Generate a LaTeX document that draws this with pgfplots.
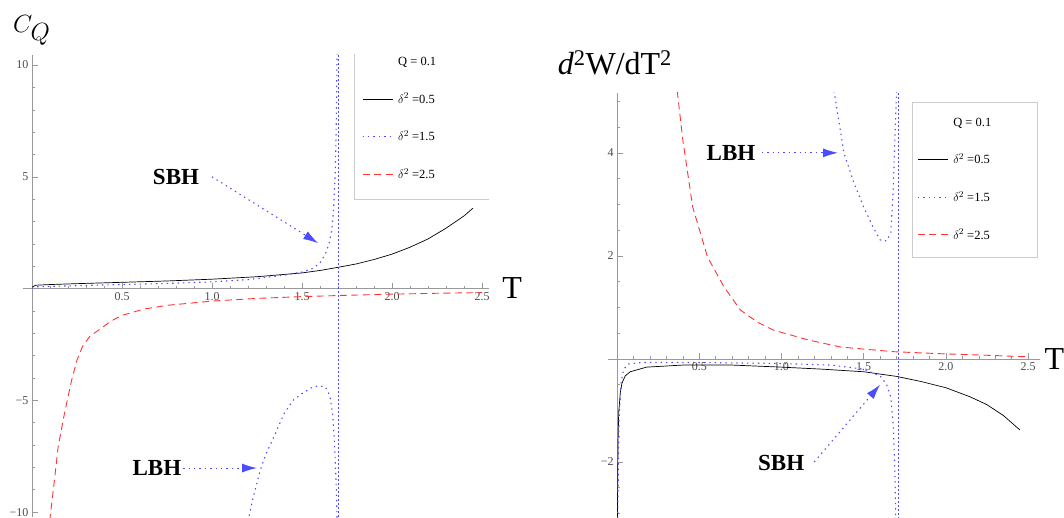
\documentclass[border=0pt]{standalone}
\usepackage{fontspec}
\setmainfont{Liberation Serif}
\usepackage{pgfplots}
\pgfplotsset{compat=1.18}
\usetikzlibrary{arrows.meta}

\definecolor{mblue}{rgb}{0.3,0.3,1}
\definecolor{mred}{rgb}{1,0.2,0.2}
\definecolor{axgray}{gray}{0.6}

\pgfplotsset{
  mma/.style={
    scale only axis, axis lines=middle,
    axis line style={axgray,-},
    tick style={axgray, line width=0.5pt},
    tick align=inside,
    major tick length=6pt, minor tick length=3pt,
    ticklabel style={font=\fontsize{12}{12}\selectfont, text=black!70},
    legend image code/.code={\draw[##1] (0pt,0pt) -- (30pt,0pt);},
    legend style={draw=none, fill=none, anchor=north west, row sep=24pt,
      font=\fontsize{12.5}{13}\selectfont, inner sep=0pt, nodes={inner sep=1pt},
      /tikz/every odd column/.append style={column sep=4pt}},
    legend cell align=left,
  },
}
\tikzset{
  mmablack/.style={black, line width=0.7pt},
  mmablue/.style={mblue, line width=1.1pt, dash pattern=on 1.4pt off 4pt},
  mmavline/.style={mblue, line width=0.8pt, dash pattern=on 2pt off 2pt},
  mmared/.style={mred, line width=0.9pt, dash pattern=on 7pt off 4.5pt},
  note/.style={font=\fontsize{23}{26}\selectfont\bfseries},
  arr/.style={mblue, line width=1.1pt, dash pattern=on 1.4pt off 4pt,
    -{Latex[length=15pt,width=9pt]}},
}

\begin{document}
\begin{tikzpicture}

% ---- left: heat capacity
\begin{axis}[mma, at={(23pt,0pt)}, anchor=south west,
    width=466.2pt, height=462pt,
    xmin=-0.05, xmax=2.54, ymin=-10.22, ymax=10.45,
    xtick={0.5,1,1.5,2,2.5}, xticklabels={0.5,1.0,1.5,2.0,2.5},
    minor xtick={0.1,0.2,...,2.5},
    ytick={-10,-5,5,10}, yticklabels={−10,−5,5,10},
    minor ytick={-9,-8,-7,-6,-4,-3,-2,-1,1,2,3,4,6,7,8,9},
    xlabel={T}, ylabel={$C_Q$},
    every axis x label/.style={at={(axis description cs:1.049,0.4946)}, anchor=center,
      font=\fontsize{32}{32}\selectfont},
    every axis y label/.style={at={(axis description cs:0.019,1.053)}, anchor=center,
      font=\fontsize{34}{34}\selectfont},
    legend style={at={(axis description cs:0.727,0.9975)}},
]
\addlegendimage{empty legend}
\addlegendentry{Q = 0.1}

\addplot[mmablack] coordinates {
  (0.0,0.06) (0.02,0.15) (0.1,0.18) (0.25,0.22) (0.5,0.28) (0.75,0.34)
  (1.0,0.42) (1.25,0.53) (1.5,0.70) (1.6,0.81) (1.7,0.95) (1.8,1.1)
  (1.9,1.3) (2.0,1.54) (2.1,1.85) (2.2,2.22) (2.3,2.7) (2.4,3.25) (2.45,3.6)
};
\addlegendentry{$\delta^2$ =0.5}

\addplot[mmablue] coordinates {
  (0.0,0.02) (0.02,0.08) (0.1,0.1) (0.3,0.14) (0.5,0.18) (0.75,0.23)
  (1.0,0.3) (1.2,0.4) (1.4,0.6) (1.5,0.74) (1.56,0.9) (1.6,1.15)
  (1.63,1.55) (1.65,2.0) (1.665,2.6) (1.675,3.5) (1.685,5.2) (1.69,7.2) (1.695,10.6)
};
\addlegendentry{$\delta^2$ =1.5}

\addplot[mmared] coordinates {
  (0.098,-10.4) (0.12,-8.9) (0.145,-7.1) (0.18,-5.6) (0.22,-4.1) (0.25,-3.2)
  (0.28,-2.6) (0.32,-2.15) (0.38,-1.8) (0.44,-1.45) (0.5,-1.2) (0.62,-0.92)
  (0.75,-0.75) (1.0,-0.56) (1.25,-0.44) (1.5,-0.36) (1.75,-0.3) (2.0,-0.25)
  (2.25,-0.21) (2.5,-0.18)
};
\addlegendentry{$\delta^2$ =2.5}

\addplot[mmablue, forget plot] coordinates {
  (1.2,-10.4) (1.23,-9.3) (1.27,-8.07) (1.3,-7.4) (1.34,-6.7) (1.4,-5.6)
  (1.45,-5.0) (1.5,-4.7) (1.55,-4.45) (1.59,-4.35) (1.63,-4.4) (1.655,-4.8)
  (1.67,-5.6) (1.68,-6.8) (1.69,-8.8) (1.695,-10.4)
};
\addplot[mmavline, forget plot] coordinates {(1.7,-10.4) (1.7,10.6)};

\draw[gray!40, line width=0.6pt] (axis description cs:0.710,1.004) rectangle (axis description cs:1.004,0.688);
\node[note] at (axis cs:0.80,4.99) {SBH};
\draw[arr] (axis cs:1.0,5.0) -- (axis cs:1.59,2.03);
\node[note] at (axis cs:0.694,-8.03) {LBH};
\draw[arr] (axis cs:0.84,-8.03) -- (axis cs:1.25,-8.03);
\end{axis}

% ---- right: d^2W/dT^2
\begin{axis}[mma, at={(608pt,0pt)}, anchor=south west,
    width=431.6pt, height=424.4pt,
    xmin=-0.055, xmax=2.57, ymin=-3.07, ymax=5.17,
    xtick={0.5,1,1.5,2,2.5}, xticklabels={0.5,1.0,1.5,2.0,2.5},
    minor xtick={0.1,0.2,...,2.5},
    ytick={-2,2,4}, yticklabels={−2,2,4},
    minor ytick={-3,-2.5,-1.5,-1,-0.5,0.5,1,1.5,2.5,3,3.5,4.5,5},
    xlabel={T}, ylabel={{\itshape d}\textsuperscript{2}W/dT\textsuperscript{2}},
    every axis x label/.style={at={(axis description cs:1.034,0.372)}, anchor=center,
      font=\fontsize{32}{32}\selectfont},
    every axis y label/.style={at={(axis description cs:0.016,1.070)}, anchor=center,
      font=\fontsize{32}{32}\selectfont},
    legend style={at={(axis description cs:0.716,0.943)}},
]
\addlegendimage{empty legend}
\addlegendentry{Q = 0.1}

\addplot[mmablack] coordinates {
  (0.002,-3.1) (0.006,-1.6) (0.01,-1.05) (0.02,-0.65) (0.03,-0.47) (0.05,-0.33)
  (0.08,-0.25) (0.18,-0.16) (0.4,-0.12) (0.7,-0.12) (1.0,-0.16) (1.25,-0.2)
  (1.5,-0.25) (1.7,-0.34) (1.85,-0.44) (2.0,-0.56) (2.15,-0.74) (2.25,-0.89)
  (2.35,-1.1) (2.45,-1.38)
};
\addlegendentry{$\delta^2$ =0.5}

\addplot[mmablue] coordinates {
  (0.004,-3.1) (0.012,-1.2) (0.025,-0.45) (0.04,-0.2) (0.07,-0.1) (0.15,-0.07)
  (0.5,-0.07) (1.0,-0.09) (1.3,-0.12) (1.5,-0.2) (1.6,-0.33) (1.64,-0.5)
  (1.665,-0.74) (1.68,-1.3) (1.69,-2.2) (1.695,-3.1)
};
\addlegendentry{$\delta^2$ =1.5}

\addplot[mmared] coordinates {
  (0.366,5.2) (0.40,4.25) (0.46,2.95) (0.55,1.98) (0.65,1.4) (0.75,0.95)
  (0.85,0.72) (0.95,0.56) (1.16,0.37) (1.36,0.23) (1.68,0.14) (1.97,0.1)
  (2.25,0.07) (2.5,0.04)
};
\addlegendentry{$\delta^2$ =2.5}

\addplot[mmablue, forget plot] coordinates {
  (1.32,5.2) (1.38,4.0) (1.44,3.42) (1.50,2.95) (1.56,2.54) (1.60,2.31)
  (1.64,2.29) (1.665,2.45) (1.68,3.3) (1.69,4.3) (1.70,5.2)
};
\addplot[mmavline, forget plot] coordinates {(1.71,-3.1) (1.71,5.2)};

\draw[gray!40, line width=0.6pt] (axis description cs:0.704,0.978) rectangle (axis description cs:0.994,0.613);
\node[note] at (axis cs:0.693,4.0) {LBH};
\draw[arr] (axis cs:0.88,4.0) -- (axis cs:1.344,4.0);
\node[note] at (axis cs:0.998,-2.02) {SBH};
\draw[arr] (axis cs:1.20,-2.0) -- (axis cs:1.60,-0.50);
\end{axis}

\pgfresetboundingbox
\path[use as bounding box] (0pt,0pt) rectangle (1064pt,517pt);
\end{tikzpicture}
\end{document}
